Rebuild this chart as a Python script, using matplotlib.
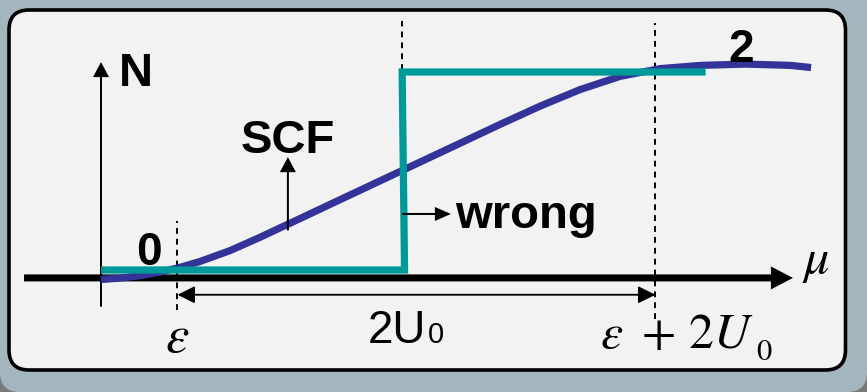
import matplotlib
matplotlib.use("Agg")
import matplotlib.pyplot as plt
from matplotlib.patches import FancyBboxPatch, FancyArrowPatch

plt.rcParams["mathtext.fontset"] = "stix"

# ---- model quantities (in units of U0) ----
eps = 0.32          # epsilon
U0 = 1.0            # charging energy
step_mu = (1.27, 1.26)   # position of the abrupt jump (bottom, top)
N_low, N_high = 0.0, 2.0
wrong_end = 2.53

# self-consistent occupation N(mu)
scf_mu = [0.000, 0.079, 0.163, 0.247, 0.331, 0.414, 0.540, 0.665, 0.833,
          1.042, 1.251, 1.460, 1.669, 1.837, 2.004, 2.172, 2.339, 2.510,
          2.695, 2.883, 2.971]
scf_N = [-0.096, -0.082, -0.058, -0.021, 0.027, 0.086, 0.196, 0.330, 0.520,
         0.758, 0.995, 1.232, 1.470, 1.655, 1.822, 1.956, 2.034, 2.067,
         2.080, 2.067, 2.045]

# step-function ("wrong") occupation
wrong_mu = [0.0, step_mu[0], step_mu[1], wrong_end]
wrong_N = [N_low, N_low, N_high, N_high]

BLUE = "#333399"
TEAL = "#009999"
PANEL = "#f2f2f2"
FRAME = "#a4b6bd"

W, H = 867, 392
fig = plt.figure(figsize=(W / 100, H / 100), dpi=100)
fig.patch.set_facecolor("#7a7a7a")

# background frame and rounded panel, in pixel units
bg = fig.add_axes([0, 0, 1, 1])
bg.set_xlim(0, W)
bg.set_ylim(H, 0)
bg.axis("off")
bg.add_patch(FancyBboxPatch((0, -40), W, H + 40,
                            boxstyle="round,pad=0,rounding_size=20",
                            fc=FRAME, ec="none"))
bg.add_patch(FancyBboxPatch((9, 10), 836.5, 360,
                            boxstyle="round,pad=0,rounding_size=20",
                            fc=PANEL, ec="black", lw=2.6))

# diagram axes in (mu, N) units
ax = fig.add_axes([0, 0, 1, 1])
ax.patch.set_alpha(0)
ax.set_xlim(-0.4226, 3.2050)
ax.set_ylim(-1.2323, 2.7273)
ax.axis("off")

# dashed guide lines
dash = dict(color="black", lw=1.4, linestyle=(0, (3, 2.6)), zorder=1)
ax.plot([eps, eps], [-0.40, 0.49], **dash)
ax.plot([step_mu[1], step_mu[1]], [2.02, 2.52], **dash)
ax.plot([eps + 2 * U0, eps + 2 * U0], [-0.49, 2.50], **dash)

# coordinate axes
ax.arrow(-0.322, -0.08, 2.895 + 0.322, 0, width=7 / 99, head_width=23 / 99,
         head_length=22 / 239, length_includes_head=True, color="black",
         lw=0, zorder=2)
ax.arrow(0, -0.37, 0, 2.10 + 0.37, width=2 / 239, head_width=16 / 239,
         head_length=15 / 99, length_includes_head=True, color="black",
         lw=0, zorder=2)

# curves
ax.plot(scf_mu, scf_N, color=BLUE, lw=5.2, solid_joinstyle="round",
        solid_capstyle="butt", zorder=3)
ax.plot(wrong_mu, wrong_N, color=TEAL, lw=5.2, solid_joinstyle="miter",
        solid_capstyle="butt", zorder=4)

# 2U0 interval marker
ax.add_patch(FancyArrowPatch((eps, -0.25), (eps + 2 * U0, -0.25),
                             arrowstyle="<|-|>,head_length=10.5,head_width=5.2",
                             mutation_scale=1, lw=1.3, color="black",
                             shrinkA=0, shrinkB=0, zorder=5))

# pointer arrows
ax.arrow(0.782, 0.40, 0, 1.14 - 0.40, width=2 / 239, head_width=16 / 239,
         head_length=15 / 99, length_includes_head=True, color="black",
         lw=0, zorder=5)
ax.arrow(step_mu[1], 0.566, 1.464 - step_mu[1], 0, width=2 / 99,
         head_width=14 / 99, head_length=16 / 239, length_includes_head=True,
         color="black", lw=0, zorder=5)

# labels
bold = dict(family="Liberation Sans", weight="bold", color="black",
            va="baseline", zorder=6)
ax.text(0.075, 1.86, "N", ha="left", fontsize=34, **bold)
ax.text(0.782, 1.18, "SCF", ha="center", fontsize=34, **bold)
ax.text(1.481, 0.424, "wrong", ha="left", fontsize=34, **bold)
ax.text(0.199, 0.05, "0", ha="center", fontsize=33, **bold)
ax.text(2.678, 2.10, "2", ha="center", fontsize=33, **bold)

plain = dict(family="Liberation Sans", color="black", va="baseline", zorder=6)
ax.text(1.117, -0.737, "2U", ha="left", fontsize=33, **plain)
ax.text(1.368, -0.737, "0", ha="left", fontsize=21, **plain)

ax.text(eps, -0.83, r"$\varepsilon$", ha="center", va="baseline",
        fontsize=38, zorder=6)
ax.text(2.088, -0.79, r"$\varepsilon\ +\,2U$", ha="left", va="baseline",
        fontsize=36, zorder=6)
ax.text(2.740, -0.909, r"$0$", ha="left", va="baseline", fontsize=22,
        zorder=6)
ax.text(2.933, -0.03, r"$\mu$", ha="left", va="baseline", fontsize=36,
        zorder=6)

fig.savefig("out.png", dpi=100, facecolor=fig.get_facecolor())
